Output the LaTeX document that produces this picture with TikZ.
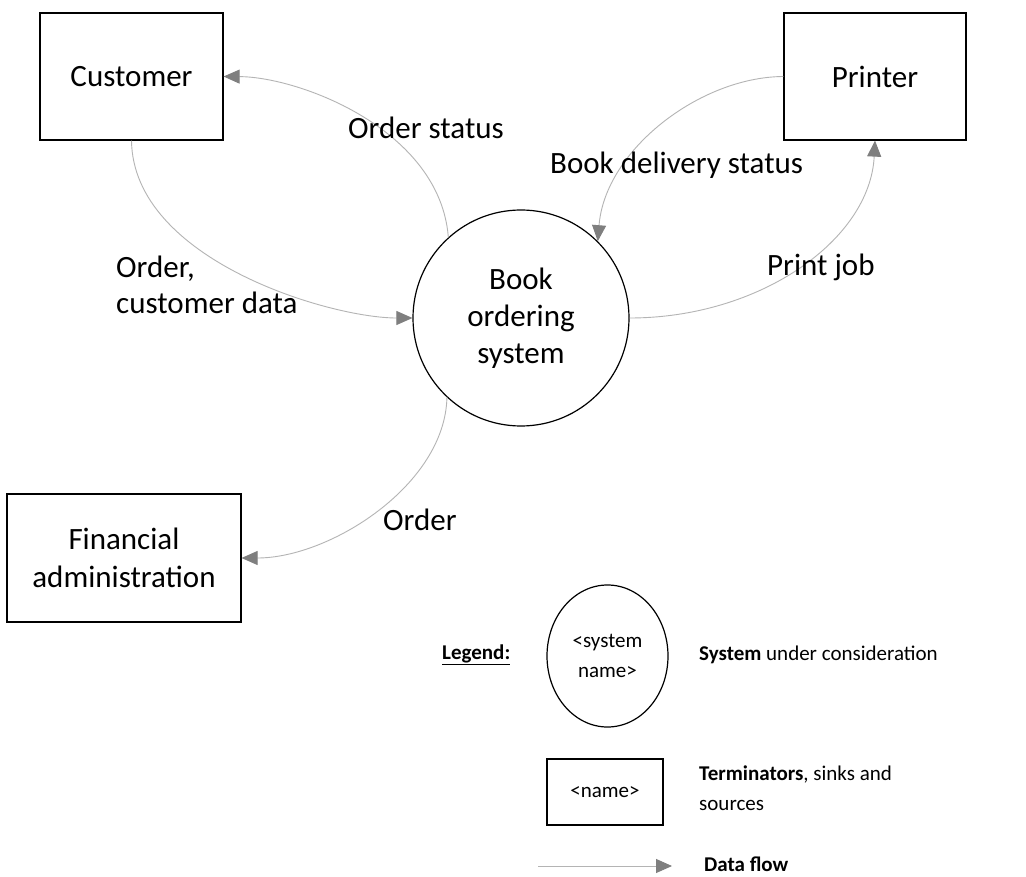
\documentclass[tikz,border=0pt]{standalone}
\usepackage{fontspec}
\setmainfont{Carlito}
\usetikzlibrary{arrows.meta,shapes.geometric}
\definecolor{lgray}{HTML}{B4B4B4}
\definecolor{agray}{HTML}{7F7F7F}
\tikzset{
  term/.style={draw=black, line width=1.2pt, rectangle, align=center, font=\fontsize{31}{38}\selectfont, inner sep=0pt},
  sysnode/.style={draw=black, line width=1.2pt, circle, minimum size=216pt, align=center, font=\fontsize{31}{37}\selectfont, inner sep=0pt},
  flow/.style={draw=lgray, line width=0.9pt, -{Triangle[length=16pt,width=14pt,color=agray,fill=agray]}},
  lbl/.style={font=\fontsize{31}{36}\selectfont, inner sep=0pt, align=left},
  leg/.style={font=\fontsize{21}{30}\selectfont, inner sep=0pt, align=left}
}
\begin{document}
\begin{tikzpicture}[x=1pt,y=-1pt]
\useasboundingbox[fill=white] (0,0) rectangle (1026,877);
% main nodes
\node[term, minimum width=183pt, minimum height=127pt] (cust) at (131.5,76.5) {Customer};
\node[term, minimum width=182pt, minimum height=127pt] (prn) at (875,76.5) {Printer};
\node[term, minimum width=234pt, minimum height=128pt] (fin) at (124,558) {Financial\\administration};
\node[sysnode] (sys) at (521,318) {Book\\ordering\\system};
% flows
\draw[flow] (cust.south) .. controls (133,260) and (330,318) .. (sys.west);
\draw[flow] (sys.132) .. controls (440,130) and (300,77) .. (cust.east);
\draw[flow] (prn.west) .. controls (700,77) and (605,150) .. (sys.45);
\draw[flow] (sys.east) .. controls (760,318) and (870,240) .. (prn.south);
\draw[flow] (sys.227) .. controls (445,485) and (330,558) .. (fin.east);
% labels
\node[lbl, anchor=west] (l1) at (348,128) {Order status};
\node[lbl, anchor=west] (l2) at (116,285) {Order,\\customer data};
\node[lbl, anchor=west] (l3) at (550,165) {Book delivery status};
\node[lbl, anchor=west] (l4) at (767,267) {Print job};
\node[lbl, anchor=west] (l5) at (383,520) {Order};
% legend
\node[leg, anchor=west] (legt) at (442,655) {\underline{\textbf{Legend:}}};
\node[draw=black, line width=1.2pt, ellipse, minimum width=121pt, minimum height=142pt, inner sep=0pt, align=center, font=\fontsize{21}{30}\selectfont] (lsys) at (607.5,656) {<system\\name>};
\node[leg, anchor=west] (lsyst) at (699,655) {\textbf{System} under consideration};
\node[draw=black, line width=1.2pt, rectangle, minimum width=116pt, minimum height=66pt, inner sep=0pt, font=\fontsize{21}{30}\selectfont] (lterm) at (605,792) {<name>};
\node[leg, anchor=west] (ltermt) at (699,788) {\textbf{Terminators}, sinks and\\sources};
\coordinate (fa) at (538,866);
\coordinate (fb) at (672,866);
\draw[flow] (fa) -- (fb);
\node[leg, anchor=west] (lflow) at (704,864) {\textbf{Data flow}};
\end{tikzpicture}
\end{document}
